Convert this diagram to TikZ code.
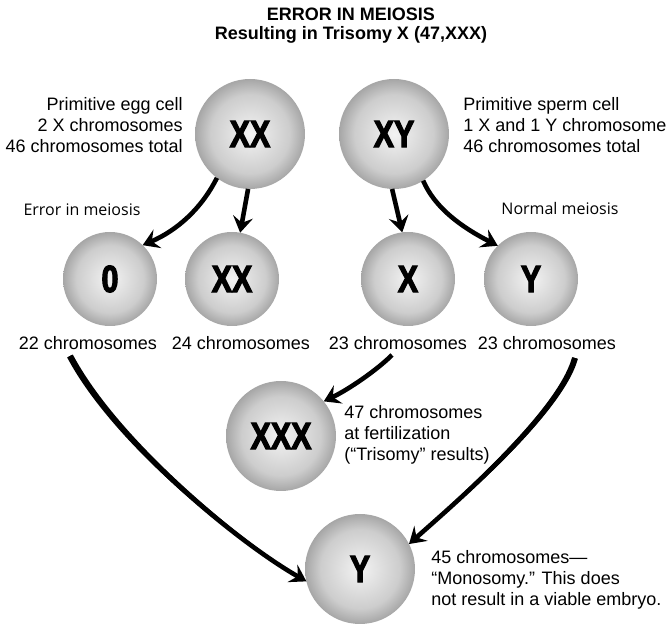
\documentclass[tikz,border=0pt]{standalone}
\usepackage{fontspec}
\setmainfont{Liberation Sans}
\newfontfamily\cellfont{Liberation Sans Bold}[FakeStretch=0.8,FakeBold=3]
\newfontfamily\notefont{Open Sans}
\usetikzlibrary{arrows.meta, calc}

\definecolor{cellhi}{HTML}{F3F3F3}
\definecolor{cellmid}{HTML}{E2E2E2}
\definecolor{cellring}{HTML}{CDCDCD}
\definecolor{celllo}{HTML}{A6A6A6}
\pgfdeclareradialshading{cellball}{\pgfpoint{0bp}{0bp}}{color(0bp)=(cellhi); color(8bp)=(cellmid); color(18bp)=(cellring); color(25bp)=(celllo); color(50bp)=(celllo)}

\begin{document}
\begin{tikzpicture}[x=0.5pt, y=-0.5pt,
    bigcell/.style={circle, minimum size=55pt, inner sep=0pt, outer sep=0pt, shade, shading=cellball, font=\cellfont\fontsize{19}{19}\selectfont},
    smallcell/.style={bigcell, minimum size=47pt},
    txt/.style={inner sep=0pt, font=\fontsize{9}{10.5}\selectfont},
    meiosis/.style={inner sep=0pt, font=\notefont\fontsize{8}{9}\selectfont},
    arrowline/.style={line width=2.3pt, -{Stealth[length=8pt, width=10pt, inset=3pt]}}]
        \useasboundingbox (0,0) rectangle (666,624);

        % Title
        \node[txt, font=\bfseries\fontsize{9}{9.5}\selectfont, align=center] (title) at (351,26) {ERROR IN MEIOSIS\\Resulting in Trisomy X (47,XXX)};

        % Parent cells
        \node[bigcell] (eggcell) at (250,134) {XX};
        \node[bigcell] (spermcell) at (394,134) {XY};
        \node[txt, align=right, anchor=east] (egginfo) at (183,125) {Primitive egg cell\\2 X chromosomes\\46 chromosomes total};
        \node[txt, align=left, anchor=west] (sperminfo) at (463,125) {Primitive sperm cell\\1 X and 1 Y chromosome\\46 chromosomes total};
        \node[meiosis] (errlabel) at (82,210) {Error in meiosis};
        \node[meiosis] (normlabel) at (560,209) {Normal meiosis};

        % Gametes
        \foreach \n/\x/\t in {zero/110/0, xxegg/232/XX, xsperm/408/X, ysperm/531/Y}
            \node[smallcell] (\n) at (\x,279) {\t};
        \foreach \n/\x/\c in {l22/88/22, l24/241/24, l23x/398/23, l23y/547/23}
            \node[txt] (\n) at (\x,343) {\c\ chromosomes};

        % Zygotes
        \node[bigcell] (trisomy) at (281,436) {XXX};
        \node[bigcell] (monosomy) at (360,569) {Y};
        \node[txt, align=left, anchor=west] (trisinfo) at (344,435) {47 chromosomes\\at fertilization\\(“Trisomy” results)};
        \node[txt, align=left, anchor=west] (monoinfo) at (431,580) {45 chromosomes—\\“Monosomy.” This does\\not result in a viable embryo.};

        % Meiosis arrows
        \draw[arrowline] (eggcell.233) .. controls +(-15,30) and +(35,-15) .. (zero.46);
        \draw[arrowline] (eggcell.268) -- (xxegg.80);
        \draw[arrowline] (spermcell.268) -- (xsperm.97);
        \draw[arrowline] (spermcell.302) .. controls +(12,28) and +(-35,-18) .. (ysperm.135);

        % Fertilization arrows
        \draw[arrowline] ($(l23x.south)+(-6,5)$) .. controls +(-15,15) and +(25,-12) .. (trisomy.39);
        \coordinate (s22) at ($(l22.south)+(-18,6)$);
        \coordinate (s23) at ($(l23y.south)+(28,8)$);
        \fill ($(s22)+(2.8,-1.5)$) .. controls ($(s22)+(47.8,83.5)$) and ($(monosomy.193)+(-68.6,-42.4)$) .. (monosomy.193) .. controls ($(monosomy.193)+(-71.4,-37.6)$) and ($(s22)+(42.2,86.5)$) .. ($(s22)+(-2.8,1.5)$) -- cycle;
        \draw[arrowline] (s22) .. controls +(45,85) and +(-70,-40) .. (monosomy.193);
        \fill ($(s23)+(2.9,0.8)$) .. controls ($(s23)+(-12.1,55.8)$) and ($(monosomy.27)+(46.9,-37.8)$) .. (monosomy.27) .. controls ($(monosomy.27)+(43.1,-42.2)$) and ($(s23)+(-17.9,54.2)$) .. ($(s23)+(-2.9,-0.8)$) -- cycle;
        \draw[arrowline] (s23) .. controls +(-15,55) and +(45,-40) .. (monosomy.27);
    \end{tikzpicture}
\end{document}
